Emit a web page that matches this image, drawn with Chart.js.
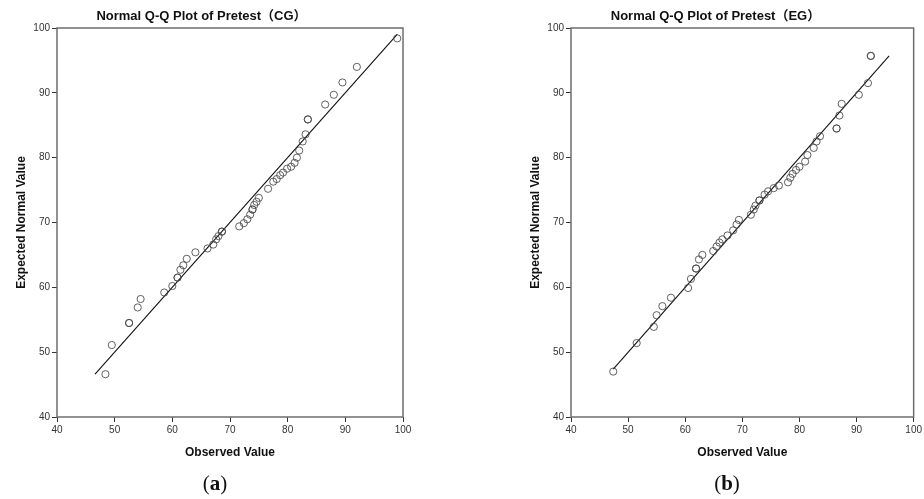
<!DOCTYPE html>
<html><head><meta charset="utf-8">
<script src="https://cdn.jsdelivr.net/npm/chart.js@4"></script>
<style>
html,body{margin:0;padding:0;background:#fff;}
body{width:924px;height:499px;position:relative;overflow:hidden;}
.c{position:absolute;top:0;height:499px;}
.lab{position:absolute;top:471px;width:50px;text-align:center;font-family:"Liberation Serif",serif;font-size:21px;line-height:24px;color:#111;}
</style></head><body>
<div class="c" style="left:0;width:462px"><canvas id="cg" width="462" height="499"></canvas></div>
<div class="c" style="left:514px;width:410px"><canvas id="eg" width="410" height="499"></canvas></div>
<div class="lab" style="left:190px">(<b>a</b>)</div>
<div class="lab" style="left:702px">(<b>b</b>)</div>
<script>
const axisTicks = [40, 50, 60, 70, 80, 90, 100];
const titleCG = "Normal Q-Q Plot of Pretest（CG）";
const titleEG = "Normal Q-Q Plot of Pretest（EG）";
const xTitle = "Observed Value";
const yTitle = "Expected Normal Value";

const cgObserved = [48.4, 49.5, 52.5, 52.5, 54.0, 54.5, 58.6, 60.0, 60.9, 60.9, 61.4, 61.9, 62.5, 64.0, 66.1, 67.1, 67.6, 68.0, 68.6, 68.6, 71.6, 72.4, 73.0, 73.5, 73.9, 73.9, 74.2, 74.6, 75.0, 76.6, 77.5, 78.1, 78.7, 79.2, 79.9, 80.6, 81.2, 81.6, 82.0, 82.6, 83.1, 83.5, 83.5, 86.5, 88.0, 89.5, 92.0, 99.0];
const cgExpected = [46.6, 51.1, 54.5, 54.5, 56.9, 58.2, 59.2, 60.2, 61.5, 61.5, 62.7, 63.4, 64.4, 65.4, 66.0, 66.6, 67.4, 67.9, 68.6, 68.6, 69.4, 69.9, 70.5, 71.2, 72.0, 72.0, 72.7, 73.2, 73.8, 75.2, 76.3, 76.7, 77.3, 77.7, 78.3, 78.6, 79.2, 80.0, 81.1, 82.5, 83.6, 85.9, 85.9, 88.2, 89.7, 91.6, 94.0, 98.4];
const cgLineX = [46.6, 99.0];
const cgLineY = [46.6, 99.0];

const egObserved = [47.4, 51.5, 54.5, 55.0, 56.0, 57.5, 60.5, 61.0, 61.9, 61.9, 62.4, 63.0, 64.9, 65.5, 66.0, 66.5, 67.4, 68.4, 69.0, 69.4, 71.5, 72.0, 72.3, 73.0, 73.0, 73.9, 74.5, 75.5, 76.4, 78.0, 78.4, 78.8, 79.4, 80.0, 81.0, 81.4, 82.5, 83.0, 83.6, 86.5, 86.5, 87.0, 87.4, 90.4, 92.0, 92.5, 92.5];
const egExpected = [47.0, 51.4, 53.9, 55.7, 57.1, 58.4, 59.9, 61.3, 62.9, 62.9, 64.3, 65.0, 65.6, 66.3, 66.9, 67.4, 68.0, 68.8, 69.7, 70.4, 71.2, 72.0, 72.6, 73.4, 73.4, 74.3, 74.8, 75.3, 75.7, 76.2, 76.9, 77.5, 78.1, 78.6, 79.4, 80.4, 81.5, 82.5, 83.3, 84.5, 84.5, 86.5, 88.3, 89.7, 91.5, 95.7, 95.7];
const egLineX = [47.4, 95.7];
const egLineY = [47.4, 95.7];

const FONT = "'Liberation Sans', Arial, 'Noto Sans CJK SC', sans-serif";

const boxPlugin = {
  id: 'box',
  afterDraw(chart) {
    const a = chart.chartArea, ctx = chart.ctx;
    ctx.save();
    ctx.strokeStyle = '#6e6e6e';
    ctx.lineWidth = 1.5;
    ctx.strokeRect(a.left, a.top, a.right - a.left, a.bottom - a.top);
    ctx.restore();
  }
};

function makeChart(id, title, obs, exp, lx, ly, padRight) {
  const pts = obs.map((v, i) => ({x: v, y: exp[i]}));
  const line = lx.map((v, i) => ({x: v, y: ly[i]}));
  return new Chart(document.getElementById(id), {
    type: 'scatter',
    data: {
      datasets: [
        {type: 'line', data: line, borderColor: '#111', borderWidth: 1.1, pointRadius: 0, fill: false, order: 2},
        {data: pts, pointRadius: 3.6, pointBorderWidth: 1, pointBackgroundColor: 'rgba(0,0,0,0)', pointBorderColor: 'rgba(70,70,70,0.85)', order: 1}
      ]
    },
    options: {
      responsive: false,
      animation: false,
      layout: {padding: {left: 0, right: padRight, top: 0, bottom: 0}},
      plugins: {
        legend: {display: false},
        tooltip: {enabled: false},
        title: {display: true, text: title, color: '#111', font: {family: FONT, size: 13, weight: 'bold'}, padding: {top: 9, bottom: 3.4}}
      },
      scales: {
        x: {
          type: 'linear', min: 40, max: 100,
          afterBuildTicks: s => { s.ticks = axisTicks.map(v => ({value: v})); },
          afterFit: s => { s.height = 82; },
          ticks: {color: '#333', font: {family: FONT, size: 10}, padding: 2, maxRotation: 0},
          grid: {drawOnChartArea: false, tickLength: 5, color: '#333'},
          border: {display: false},
          title: {display: true, text: xTitle, color: '#111', font: {family: FONT, size: 12, weight: 'bold'}, padding: {top: 0, bottom: 39.5}}
        },
        y: {
          type: 'linear', min: 40, max: 100,
          afterBuildTicks: s => { s.ticks = axisTicks.map(v => ({value: v})); },
          afterFit: s => { s.width = 57; },
          ticks: {color: '#333', font: {family: FONT, size: 10}, padding: 2},
          grid: {drawOnChartArea: false, tickLength: 5, color: '#333'},
          border: {display: false},
          title: {display: true, text: yTitle, color: '#111', font: {family: FONT, size: 12, weight: 'bold'}, padding: {top: 14, bottom: 0}}
        }
      }
    },
    plugins: [boxPlugin]
  });
}

makeChart('cg', titleCG, cgObserved, cgExpected, cgLineX, cgLineY, 59);
makeChart('eg', titleEG, egObserved, egExpected, egLineX, egLineY, 7);
</script>
</body></html>
